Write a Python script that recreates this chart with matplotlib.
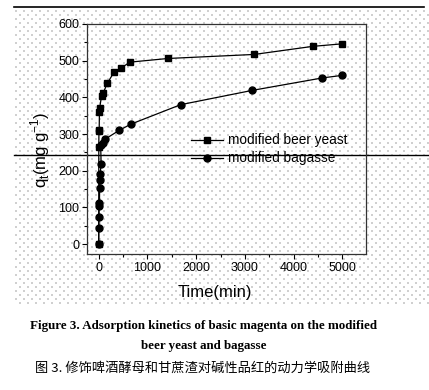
import numpy as np
import matplotlib
matplotlib.use("Agg")
import matplotlib.pyplot as plt
from matplotlib.ticker import MultipleLocator

# data
t_yeast = [0, 2, 5, 10, 15, 20, 60, 95, 180, 320, 460, 640, 1420, 3190, 4390, 5000]
q_yeast = [0, 266, 307, 312, 360, 371, 405, 413, 439, 470, 480, 496, 506, 517, 539, 546]

t_bagasse = [0, 2, 5, 10, 15, 20, 25, 30, 50, 40, 80, 130, 420, 660, 1680, 3150, 4590, 5000]
q_bagasse = [0, 45, 75, 105, 113, 153, 175, 192, 219, 271, 275, 286, 310, 327, 380, 419, 453, 460]

labels = ["modified beer yeast", "modified bagasse"]
caption_en = "Figure 3. Adsorption kinetics of basic magenta on the modified\nbeer yeast and bagasse"
caption_cn = "图 3. 修饰啤酒酵母和甘蔗渣对碱性品红的动力学吸附曲线"

W, H = 429, 390
fig = plt.figure(figsize=(W / 100, H / 100), dpi=100)

# dotted paper background (staggered dots) + scan lines
bg = fig.add_axes([0, 0, 1, 1], zorder=0)
bg.set_xlim(0, W)
bg.set_ylim(H, 0)
bg.axis("off")
dx, dy = np.meshgrid(np.arange(16, 425, 8), np.arange(11, 305, 8))
bg.scatter(dx.ravel(), dy.ravel(), s=0.6, marker="s", c="#d0d0d0", lw=0)
bg.scatter(dx.ravel() + 4, dy.ravel() + 4, s=0.6, marker="s", c="#d0d0d0", lw=0)
bg.plot([14, 424], [7, 7], color="black", lw=1.2)
bg.plot([14, 429], [155, 155], color="black", lw=1.0)

ax = fig.add_axes([87 / W, 1 - 254 / H, 279 / W, 230 / H], zorder=1)
ax.patch.set_alpha(0)
ax.plot(t_yeast, q_yeast, "-s", color="black", lw=0.9, ms=5, label=labels[0])
ax.plot(t_bagasse, q_bagasse, "-o", color="black", lw=0.9, ms=5, label=labels[1])

ax.set_xlim(-240, 5485)
ax.set_ylim(-27, 600)
ax.xaxis.set_major_locator(MultipleLocator(1000))
ax.xaxis.set_minor_locator(MultipleLocator(500))
ax.yaxis.set_major_locator(MultipleLocator(100))
ax.yaxis.set_minor_locator(MultipleLocator(50))
ax.tick_params(which="both", direction="out", top=False, right=False,
               labelsize=9, width=0.8, pad=2)
ax.tick_params(which="major", length=3.5)
ax.tick_params(which="minor", length=2)
for lab in ax.get_xticklabels() + ax.get_yticklabels():
    lab.set_family("Liberation Sans")
for s in ax.spines.values():
    s.set_linewidth(0.9)
    s.set_color("#333333")

ax.set_xlabel("Time(min)", fontsize=12, family="Liberation Sans")
ax.xaxis.set_label_coords(0.459, -0.135)
fig.text(40 / W, 1 - 150 / H, r"q$_\mathregular{t}$(mg g$^\mathregular{-1}$)", rotation=90,
         ha="center", va="center", fontsize=12, family="Liberation Sans")

ax.legend(frameon=False, loc="center left", bbox_to_anchor=(0.33, 0.455),
          prop={"family": "Liberation Sans", "size": 9.8},
          handlelength=2.3, handletextpad=0.4, labelspacing=0.3)

fig.text(204 / W, 1 - 336 / H, caption_en, ha="center", va="center",
         fontsize=9.4, family="Liberation Serif", weight="bold", linespacing=1.9)
fig.text(203 / W, 1 - 368 / H, caption_cn, ha="center", va="center",
         fontsize=9.5, family=["Noto Sans CJK SC", "DejaVu Sans"])

fig.savefig("out.png", dpi=100)
